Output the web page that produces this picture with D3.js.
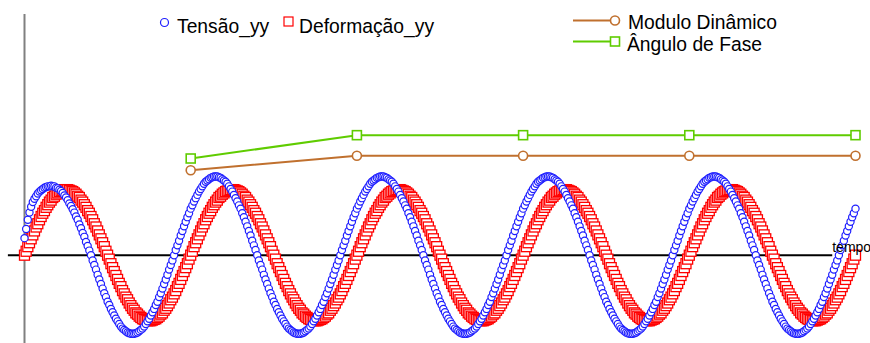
<!DOCTYPE html>
<html>
<head>
<meta charset="utf-8">
<script src="https://cdn.jsdelivr.net/npm/d3@7"></script>
<style>
  html, body { margin: 0; padding: 0; background: #fff; }
  svg { display: block; font-family: "Liberation Sans", Arial, sans-serif; }
</style>
</head>
<body>
<svg id="chart" width="870" height="343"></svg>
<script>
// Sample interval of both signals (s)
const dt = 0.01;

// Deformação_yy (strain, normalised), 100 samples per cycle, 5 cycles
const deformacao = [
  0,.06,.13,.19,.25,.31,.37,.43,.48,.54,.59,.64,.68,.73,.77,.81,.84,.88,.9,.93,.95,.97,.98,.99,1,
  1,1,.99,.98,.97,.95,.93,.9,.88,.84,.81,.77,.73,.68,.64,.59,.54,.48,.43,.37,.31,.25,.19,.13,.06,
  0,-.06,-.13,-.19,-.25,-.31,-.37,-.43,-.48,-.54,-.59,-.64,-.68,-.73,-.77,-.81,-.84,-.88,-.9,-.93,-.95,-.97,-.98,-.99,-1,
  -1,-1,-.99,-.98,-.97,-.95,-.93,-.9,-.88,-.84,-.81,-.77,-.73,-.68,-.64,-.59,-.54,-.48,-.43,-.37,-.31,-.25,-.19,-.13,-.06,
  0,.06,.13,.19,.25,.31,.37,.43,.48,.54,.59,.64,.68,.73,.77,.81,.84,.88,.9,.93,.95,.97,.98,.99,1,
  1,1,.99,.98,.97,.95,.93,.9,.88,.84,.81,.77,.73,.68,.64,.59,.54,.48,.43,.37,.31,.25,.19,.13,.06,
  0,-.06,-.13,-.19,-.25,-.31,-.37,-.43,-.48,-.54,-.59,-.64,-.68,-.73,-.77,-.81,-.84,-.88,-.9,-.93,-.95,-.97,-.98,-.99,-1,
  -1,-1,-.99,-.98,-.97,-.95,-.93,-.9,-.88,-.84,-.81,-.77,-.73,-.68,-.64,-.59,-.54,-.48,-.43,-.37,-.31,-.25,-.19,-.13,-.06,
  0,.06,.13,.19,.25,.31,.37,.43,.48,.54,.59,.64,.68,.73,.77,.81,.84,.88,.9,.93,.95,.97,.98,.99,1,
  1,1,.99,.98,.97,.95,.93,.9,.88,.84,.81,.77,.73,.68,.64,.59,.54,.48,.43,.37,.31,.25,.19,.13,.06,
  0,-.06,-.13,-.19,-.25,-.31,-.37,-.43,-.48,-.54,-.59,-.64,-.68,-.73,-.77,-.81,-.84,-.88,-.9,-.93,-.95,-.97,-.98,-.99,-1,
  -1,-1,-.99,-.98,-.97,-.95,-.93,-.9,-.88,-.84,-.81,-.77,-.73,-.68,-.64,-.59,-.54,-.48,-.43,-.37,-.31,-.25,-.19,-.13,-.06,
  0,.06,.13,.19,.25,.31,.37,.43,.48,.54,.59,.64,.68,.73,.77,.81,.84,.88,.9,.93,.95,.97,.98,.99,1,
  1,1,.99,.98,.97,.95,.93,.9,.88,.84,.81,.77,.73,.68,.64,.59,.54,.48,.43,.37,.31,.25,.19,.13,.06,
  0,-.06,-.13,-.19,-.25,-.31,-.37,-.43,-.48,-.54,-.59,-.64,-.68,-.73,-.77,-.81,-.84,-.88,-.9,-.93,-.95,-.97,-.98,-.99,-1,
  -1,-1,-.99,-.98,-.97,-.95,-.93,-.9,-.88,-.84,-.81,-.77,-.73,-.68,-.64,-.59,-.54,-.48,-.43,-.37,-.31,-.25,-.19,-.13,-.06,
  0,.06,.13,.19,.25,.31,.37,.43,.48,.54,.59,.64,.68,.73,.77,.81,.84,.88,.9,.93,.95,.97,.98,.99,1,
  1,1,.99,.98,.97,.95,.93,.9,.88,.84,.81,.77,.73,.68,.64,.59,.54,.48,.43,.37,.31,.25,.19,.13,.06,
  0,-.06,-.13,-.19,-.25,-.31,-.37,-.43,-.48,-.54,-.59,-.64,-.68,-.73,-.77,-.81,-.84,-.88,-.9,-.93,-.95,-.97,-.98,-.99,-1,
  -1,-1,-.99,-.98,-.97,-.95,-.93,-.9,-.88,-.84,-.81,-.77,-.73,-.68,-.64,-.59,-.54,-.48,-.43,-.37,-.31,-.25,-.19,-.13,-.06,
  0
];

// Tensão_yy (stress, same normalisation), leads the strain; first cycle shows the start-up transient
const tensao = [
  .26,.4,.54,.65,.74,.81,.86,.9,.94,.97,.99,1.01,1.03,1.04,1.05,1.05,1.06,1.05,1.05,1.03,1.02,1,.98,.95,.91,
  .88,.84,.79,.75,.7,.65,.59,.54,.47,.41,.34,.28,.2,.14,.07,0,-.08,-.15,-.22,-.3,-.37,-.44,-.51,-.58,-.64,
  -.71,-.76,-.82,-.87,-.92,-.97,-1.01,-1.05,-1.09,-1.12,-1.14,-1.16,-1.18,-1.19,-1.2,-1.2,-1.2,-1.19,-1.18,-1.16,-1.14,-1.12,-1.09,-1.05,-1.01,
  -.97,-.92,-.87,-.82,-.76,-.71,-.64,-.58,-.51,-.44,-.37,-.3,-.22,-.15,-.08,0,.08,.15,.22,.3,.37,.44,.51,.58,.64,
  .71,.76,.82,.87,.92,.97,1.01,1.05,1.09,1.12,1.14,1.16,1.18,1.19,1.2,1.2,1.2,1.19,1.18,1.16,1.14,1.12,1.09,1.05,1.01,
  .97,.92,.87,.82,.76,.71,.64,.58,.51,.44,.37,.3,.22,.15,.08,0,-.08,-.15,-.22,-.3,-.37,-.44,-.51,-.58,-.64,
  -.71,-.76,-.82,-.87,-.92,-.97,-1.01,-1.05,-1.09,-1.12,-1.14,-1.16,-1.18,-1.19,-1.2,-1.2,-1.2,-1.19,-1.18,-1.16,-1.14,-1.12,-1.09,-1.05,-1.01,
  -.97,-.92,-.87,-.82,-.76,-.71,-.64,-.58,-.51,-.44,-.37,-.3,-.22,-.15,-.08,0,.08,.15,.22,.3,.37,.44,.51,.58,.64,
  .71,.76,.82,.87,.92,.97,1.01,1.05,1.09,1.12,1.14,1.16,1.18,1.19,1.2,1.2,1.2,1.19,1.18,1.16,1.14,1.12,1.09,1.05,1.01,
  .97,.92,.87,.82,.76,.71,.64,.58,.51,.44,.37,.3,.22,.15,.08,0,-.08,-.15,-.22,-.3,-.37,-.44,-.51,-.58,-.64,
  -.71,-.76,-.82,-.87,-.92,-.97,-1.01,-1.05,-1.09,-1.12,-1.14,-1.16,-1.18,-1.19,-1.2,-1.2,-1.2,-1.19,-1.18,-1.16,-1.14,-1.12,-1.09,-1.05,-1.01,
  -.97,-.92,-.87,-.82,-.76,-.71,-.64,-.58,-.51,-.44,-.37,-.3,-.22,-.15,-.08,0,.08,.15,.22,.3,.37,.44,.51,.58,.64,
  .71,.76,.82,.87,.92,.97,1.01,1.05,1.09,1.12,1.14,1.16,1.18,1.19,1.2,1.2,1.2,1.19,1.18,1.16,1.14,1.12,1.09,1.05,1.01,
  .97,.92,.87,.82,.76,.71,.64,.58,.51,.44,.37,.3,.22,.15,.08,0,-.08,-.15,-.22,-.3,-.37,-.44,-.51,-.58,-.64,
  -.71,-.76,-.82,-.87,-.92,-.97,-1.01,-1.05,-1.09,-1.12,-1.14,-1.16,-1.18,-1.19,-1.2,-1.2,-1.2,-1.19,-1.18,-1.16,-1.14,-1.12,-1.09,-1.05,-1.01,
  -.97,-.92,-.87,-.82,-.76,-.71,-.64,-.58,-.51,-.44,-.37,-.3,-.22,-.15,-.08,0,.08,.15,.22,.3,.37,.44,.51,.58,.64,
  .71,.76,.82,.87,.92,.97,1.01,1.05,1.09,1.12,1.14,1.16,1.18,1.19,1.2,1.2,1.2,1.19,1.18,1.16,1.14,1.12,1.09,1.05,1.01,
  .97,.92,.87,.82,.76,.71,.64,.58,.51,.44,.37,.3,.22,.15,.08,0,-.08,-.15,-.22,-.3,-.37,-.44,-.51,-.58,-.64,
  -.71,-.76,-.82,-.87,-.92,-.97,-1.01,-1.05,-1.09,-1.12,-1.14,-1.16,-1.18,-1.19,-1.2,-1.2,-1.2,-1.19,-1.18,-1.16,-1.14,-1.12,-1.09,-1.05,-1.01,
  -.97,-.92,-.87,-.82,-.76,-.71,-.64,-.58,-.51,-.44,-.37,-.3,-.22,-.15,-.08,0,.08,.15,.22,.3,.37,.44,.51,.58,.64,
  .71
];

// Per-cycle results, evaluated at the end of each cycle
const cicloTempo = [1, 2, 3, 4, 5];
const moduloDinamico = [1.025, 1.2, 1.2, 1.2, 1.2];   // stress/strain amplitude ratio
const anguloFase = [29, 36, 36, 36, 36];              // degrees

const legendaSinais = ["Tensão_yy", "Deformação_yy"];
const legendaCiclo = ["Modulo Dinâmico", "Ângulo de Fase"];
const rotuloTempo = "tempo";

const cores = {
  tensao: "#1e1eff",
  deformacao: "#ff0000",
  modulo: "#c0702e",
  fase: "#5fcc00",
  eixoV: "#808080",
  eixoH: "#000000"
};

const svg = d3.select("#chart");

// Scales
const x = d3.scaleLinear().domain([0, 5]).range([24.5, 855.5]);
const y = d3.scaleLinear().domain([-1.34, 3.68]).range([343, 14]);
const yMod = d3.scaleLinear().domain([0, 2.91]).range([y(0), y(3.68)]);
const yFase = d3.scaleLinear().domain([0, 72.35]).range([y(0), y(3.68)]);

// Axes (no ticks): vertical at t = 0, horizontal at zero
svg.append("line")
  .attr("x1", x(0)).attr("x2", x(0))
  .attr("y1", y(3.68)).attr("y2", y(-1.34))
  .attr("stroke", cores.eixoV).attr("stroke-width", 2);

svg.append("line")
  .attr("x1", x(-0.1)).attr("x2", x(4.86))
  .attr("y1", y(0)).attr("y2", y(0))
  .attr("stroke", cores.eixoH).attr("stroke-width", 2);

// Strain samples: open squares
const lado = 10;
svg.append("g").selectAll("rect")
  .data(deformacao)
  .join("rect")
  .attr("x", (d, i) => x(i * dt) - lado / 2)
  .attr("y", d => y(d) - lado / 2)
  .attr("width", lado).attr("height", lado)
  .attr("fill", "#fff")
  .attr("stroke", cores.deformacao)
  .attr("stroke-width", 1.3);

// Stress samples: open circles
svg.append("g").selectAll("circle")
  .data(tensao)
  .join("circle")
  .attr("cx", (d, i) => x(i * dt))
  .attr("cy", d => y(d))
  .attr("r", 3.6)
  .attr("fill", "#fff")
  .attr("stroke", cores.tensao)
  .attr("stroke-width", 1.2);

// Per-cycle dynamic modulus
const linhaMod = d3.line().x((d, i) => x(cicloTempo[i])).y(d => yMod(d));
svg.append("path")
  .attr("d", linhaMod(moduloDinamico))
  .attr("fill", "none").attr("stroke", cores.modulo).attr("stroke-width", 2);
svg.append("g").selectAll("circle")
  .data(moduloDinamico)
  .join("circle")
  .attr("cx", (d, i) => x(cicloTempo[i]))
  .attr("cy", d => yMod(d))
  .attr("r", 4.5)
  .attr("fill", "#fff")
  .attr("stroke", cores.modulo).attr("stroke-width", 1.6);

// Per-cycle phase angle
const linhaFase = d3.line().x((d, i) => x(cicloTempo[i])).y(d => yFase(d));
svg.append("path")
  .attr("d", linhaFase(anguloFase))
  .attr("fill", "none").attr("stroke", cores.fase).attr("stroke-width", 2);
svg.append("g").selectAll("rect")
  .data(anguloFase)
  .join("rect")
  .attr("x", (d, i) => x(cicloTempo[i]) - 4.5)
  .attr("y", d => yFase(d) - 4.5)
  .attr("width", 9).attr("height", 9)
  .attr("fill", "#fff")
  .attr("stroke", cores.fase).attr("stroke-width", 1.6);

// Axis label, drawn above the samples
svg.append("text")
  .attr("x", x(4.86)).attr("y", y(0) - 3)
  .attr("font-size", 14).attr("fill", "#000")
  .text(rotuloTempo);

// Legends
const fonteLegenda = 19.3;
const legSinais = svg.append("g").attr("font-size", fonteLegenda).attr("fill", "#000");
legSinais.append("circle")
  .attr("cx", 164.5).attr("cy", 22.5).attr("r", 4)
  .attr("fill", "#fff").attr("stroke", cores.tensao).attr("stroke-width", 1.2);
legSinais.append("text").attr("x", 177).attr("y", 33).text(legendaSinais[0]);
legSinais.append("rect")
  .attr("x", 284).attr("y", 17).attr("width", 9).attr("height", 9)
  .attr("fill", "#fff").attr("stroke", cores.deformacao).attr("stroke-width", 1.2);
legSinais.append("text").attr("x", 299).attr("y", 33).text(legendaSinais[1]);

const legCiclo = svg.append("g").attr("font-size", fonteLegenda).attr("fill", "#000");
legCiclo.append("line")
  .attr("x1", 573).attr("x2", 615).attr("y1", 20.5).attr("y2", 20.5)
  .attr("stroke", cores.modulo).attr("stroke-width", 2);
legCiclo.append("circle")
  .attr("cx", 615).attr("cy", 20.5).attr("r", 4.5)
  .attr("fill", "#fff").attr("stroke", cores.modulo).attr("stroke-width", 1.6);
legCiclo.append("text").attr("x", 628).attr("y", 29).text(legendaCiclo[0]);
legCiclo.append("line")
  .attr("x1", 573).attr("x2", 615).attr("y1", 41.5).attr("y2", 41.5)
  .attr("stroke", cores.fase).attr("stroke-width", 2);
legCiclo.append("rect")
  .attr("x", 610.5).attr("y", 37).attr("width", 9).attr("height", 9)
  .attr("fill", "#fff").attr("stroke", cores.fase).attr("stroke-width", 1.6);
legCiclo.append("text").attr("x", 627).attr("y", 51).text(legendaCiclo[1]);
</script>
</body>
</html>
